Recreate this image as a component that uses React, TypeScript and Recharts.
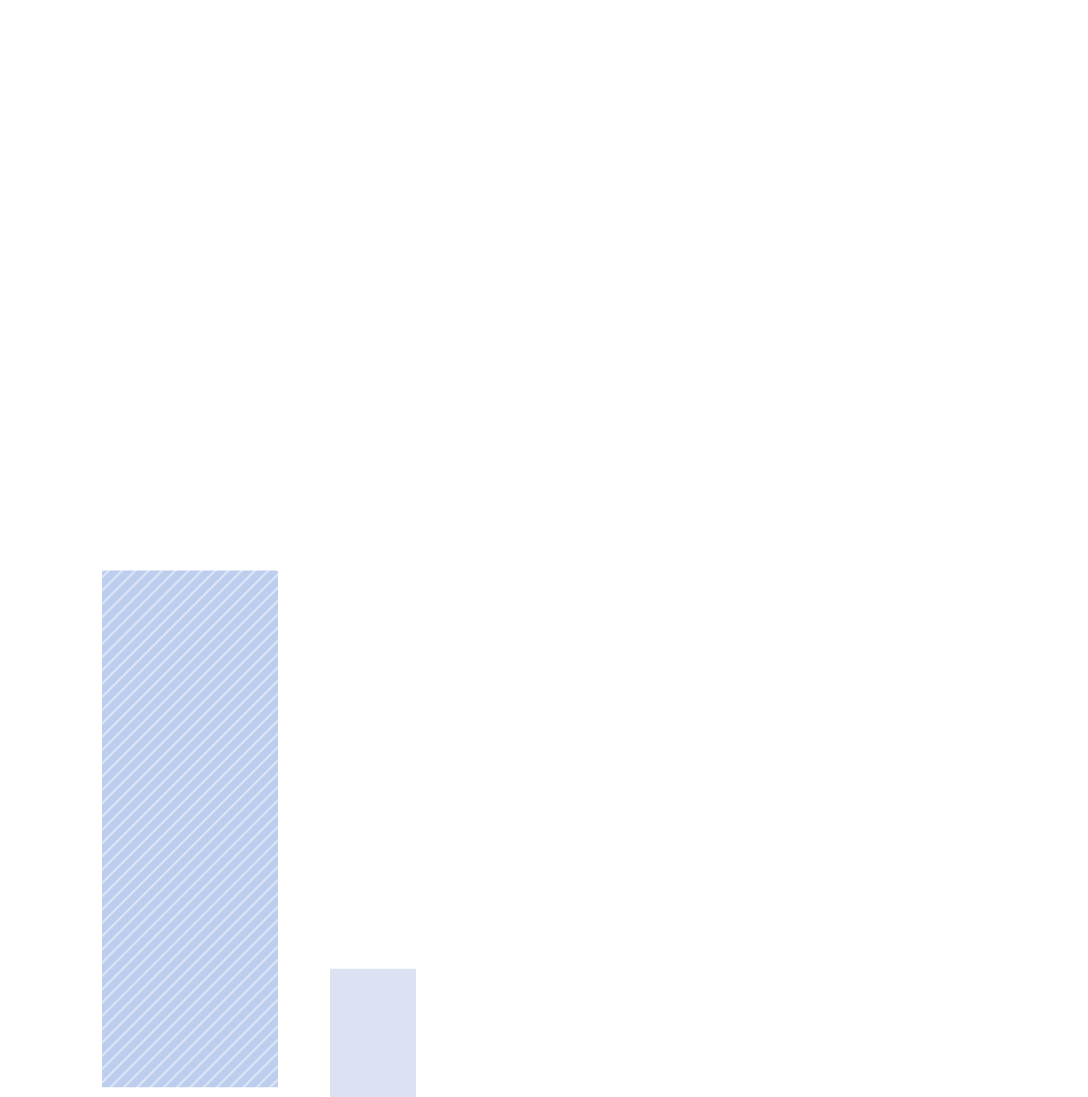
import React from 'react';
import { BarChart, Bar, XAxis, YAxis } from 'recharts';

// categories along the (hidden) x axis
const categories = ['A', 'B', 'C', 'D', 'E'];
// hatched series: [bottom, top]
const hatchedValues: (number[] | null)[] = [[0.9, 48], null, null, null, null];
// plain series: [bottom, top]
const plainValues: (number[] | null)[] = [null, [0, 11.7], null, null, null];

const chartData = categories.map((cat, i) => ({
  cat,
  hatched: hatchedValues[i],
  plain: plainValues[i],
}));

const App: React.FC = () => {
  return (
    <div style={{ position: 'absolute', left: 0, top: 0, width: 1088, height: 1097, background: '#fff' }}>
      <BarChart width={1088} height={1097} data={chartData} margin={{ top: 0, right: 0, left: 0, bottom: 0 }}>
        <defs>
          <pattern
            id="hatch"
            patternUnits="userSpaceOnUse"
            width="9.4"
            height="9.4"
            patternTransform="rotate(45)"
          >
            <rect width="9.4" height="9.4" fill="#bdcdee" />
            <line x1="1" y1="0" x2="1" y2="9.4" stroke="#dde6f7" strokeWidth={2} />
          </pattern>
        </defs>
        <XAxis xAxisId="a" dataKey="cat" hide padding={{ left: 98, right: 75 }} />
        <XAxis xAxisId="b" dataKey="cat" hide padding={{ left: 98, right: 75 }} />
        <YAxis hide domain={[0, 100]} />
        <Bar
          xAxisId="a"
          dataKey="hatched"
          barSize={176}
          fill="url(#hatch)"
          radius={[2, 2, 0, 0]}
          isAnimationActive={false}
        />
        <Bar xAxisId="b" dataKey="plain" barSize={86} fill="#dde2f3" isAnimationActive={false} />
      </BarChart>
    </div>
  );
};

export default App;
